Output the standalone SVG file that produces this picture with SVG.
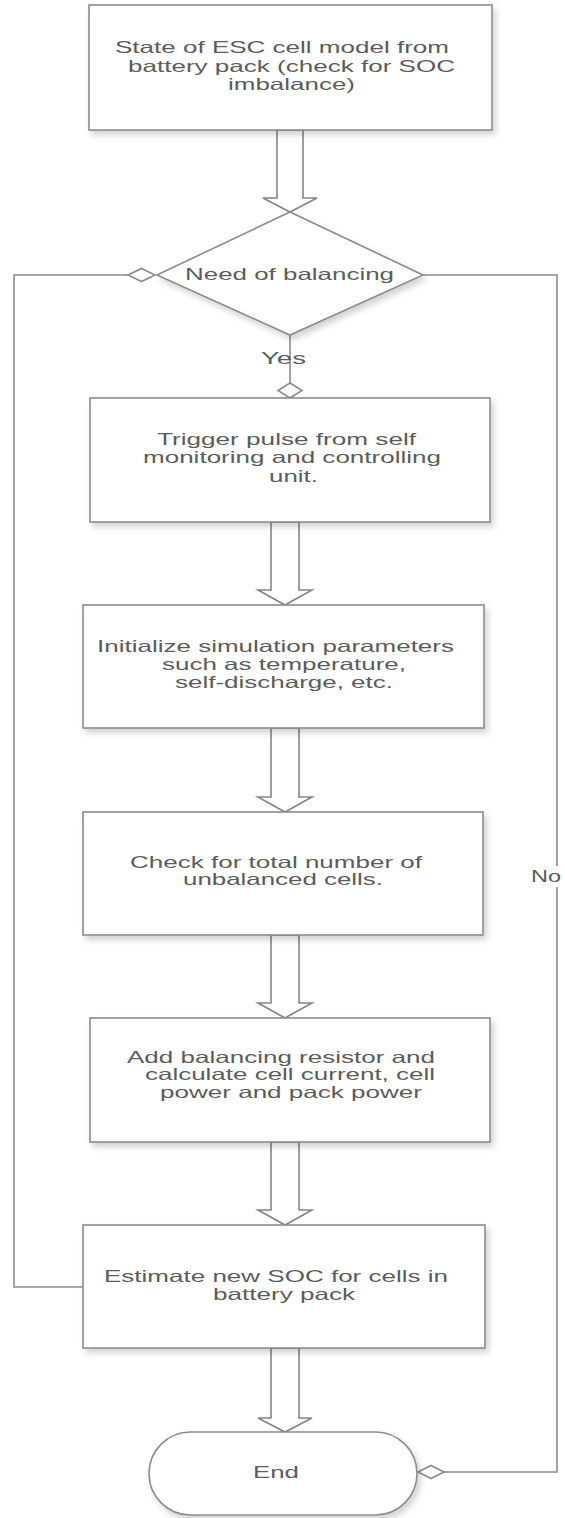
<svg xmlns="http://www.w3.org/2000/svg" width="565" height="1518" viewBox="0 0 565 1518">
<defs>
<filter id="sh" x="-10%" y="-10%" width="130%" height="140%">
<feDropShadow dx="3" dy="4" stdDeviation="3" flood-color="#000" flood-opacity="0.18"/>
</filter>
<style>
.box{fill:#fff;stroke:#8c8c8c;stroke-width:1.6;filter:url(#sh)}
.arr{fill:#fff;stroke:#858585;stroke-width:1.6;stroke-linejoin:miter}
.ln{fill:none;stroke:#8c8c8c;stroke-width:1.6}
.dm{fill:#fff;stroke:#8c8c8c;stroke-width:1.6}
text{font-family:"Liberation Sans",Arial,sans-serif;font-size:16.5px;fill:#5c5c5c}
</style>
</defs>
<rect width="565" height="1518" fill="#fff"/>

<g id="connectors">
<!-- block arrows -->
<polygon class="arr" points="277,130 303,130 303,198 317,198 290,212 263,198 277,198"/>
<polygon class="arr" points="271,522 299,522 299,590 312,590 285,605 258,590 271,590"/>
<polygon class="arr" points="271,728 299,728 299,797 312,797 285,812 258,797 271,797"/>
<polygon class="arr" points="271,935 299,935 299,1003 312,1003 285,1018 258,1003 271,1003"/>
<polygon class="arr" points="271,1142 299,1142 299,1210 312,1210 285,1225 258,1210 271,1210"/>
<polygon class="arr" points="271,1348 299,1348 299,1418 312,1418 285,1432 258,1418 271,1418"/>
<!-- yes -->
<line class="ln" x1="290" y1="335" x2="290" y2="383"/>
<polygon class="dm" points="290,383 302,390.5 290,398 278,390.5"/>
<!-- loop back from last box -->
<polyline class="ln" points="83,1287 14,1287 14,275 128,275"/>
<polygon class="dm" points="128,275 141.5,268.5 155,275 141.5,281.5"/>
<!-- no -->
<polyline class="ln" points="423,275 557,275 557,1472 444,1472"/>
<polygon class="dm" points="444,1472 431,1465.5 418,1472 431,1478.5"/>
<rect x="530" y="866" width="32" height="21" fill="#fff"/>
<text x="531" y="882" textLength="30" lengthAdjust="spacingAndGlyphs">No</text>
<text x="261" y="364" textLength="45" lengthAdjust="spacingAndGlyphs">Yes</text>
</g>

<g id="start">
<rect class="box" x="89" y="5" width="403" height="125"/>
<text x="115" y="53" textLength="334" lengthAdjust="spacingAndGlyphs">State of ESC cell model from</text>
<text x="128" y="72" textLength="327" lengthAdjust="spacingAndGlyphs">battery pack (check for SOC</text>
<text x="228" y="90" textLength="127" lengthAdjust="spacingAndGlyphs">imbalance)</text>
</g>

<g id="decision">
<polygon class="box" points="290,212 423,275 290,335 157,275"/>
<text x="185" y="280" textLength="209" lengthAdjust="spacingAndGlyphs">Need of balancing</text>
</g>

<g id="trigger">
<rect class="box" x="90" y="398" width="400" height="124"/>
<text x="157" y="445" textLength="259" lengthAdjust="spacingAndGlyphs">Trigger pulse from self</text>
<text x="143" y="463" textLength="298" lengthAdjust="spacingAndGlyphs">monitoring and controlling</text>
<text x="269" y="482" textLength="49" lengthAdjust="spacingAndGlyphs">unit.</text>
</g>

<g id="initialize">
<rect class="box" x="83" y="605" width="401" height="123"/>
<text x="97" y="652" textLength="357" lengthAdjust="spacingAndGlyphs">Initialize simulation parameters</text>
<text x="162" y="670" textLength="244" lengthAdjust="spacingAndGlyphs">such as temperature,</text>
<text x="175" y="688" textLength="218" lengthAdjust="spacingAndGlyphs">self-discharge, etc.</text>
</g>

<g id="check">
<rect class="box" x="83" y="812" width="400" height="123"/>
<text x="130" y="868" textLength="292" lengthAdjust="spacingAndGlyphs">Check for total number of</text>
<text x="183" y="885" textLength="200" lengthAdjust="spacingAndGlyphs">unbalanced cells.</text>
</g>

<g id="resistor">
<rect class="box" x="90" y="1018" width="400" height="124"/>
<text x="127" y="1063" textLength="308" lengthAdjust="spacingAndGlyphs">Add balancing resistor and</text>
<text x="145" y="1080" textLength="290" lengthAdjust="spacingAndGlyphs">calculate cell current, cell</text>
<text x="160" y="1098" textLength="262" lengthAdjust="spacingAndGlyphs">power and pack power</text>
</g>

<g id="estimate">
<rect class="box" x="83" y="1225" width="402" height="123"/>
<text x="104" y="1282" textLength="344" lengthAdjust="spacingAndGlyphs">Estimate new SOC for cells in</text>
<text x="213" y="1300" textLength="142" lengthAdjust="spacingAndGlyphs">battery pack</text>
</g>

<g id="end">
<rect class="box" x="149" y="1432" width="268" height="83" rx="41.5" ry="41.5"/>
<text x="253" y="1478" textLength="46" lengthAdjust="spacingAndGlyphs">End</text>
</g>
</svg>
